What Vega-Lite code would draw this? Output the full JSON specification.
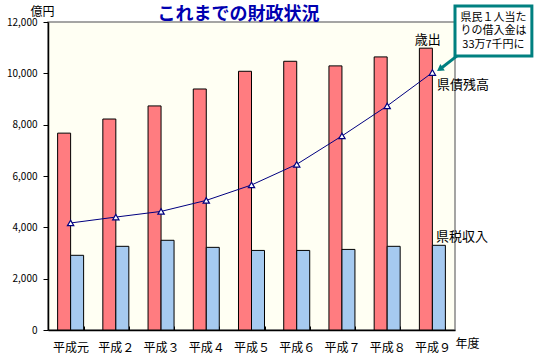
{
  "$schema": "https://vega.github.io/schema/vega-lite/v6.json",
  "width": 407,
  "height": 308,
  "autosize": "none",
  "padding": {"left": 48, "top": 22, "right": 81, "bottom": 29},
  "background": "white",
  "config": {
    "font": "Noto Sans CJK JP",
    "view": {"fill": "#FFFFF3", "stroke": "#888888", "strokeWidth": 1.5}
  },
  "title": {
    "text": "これまでの財政状況",
    "fontSize": 18,
    "fontWeight": "bold",
    "color": "#0000B0",
    "anchor": "middle",
    "frame": "group",
    "dx": -13,
    "dy": 40,
    "offset": 3,
    "baseline": "bottom"
  },
  "datasets": {
    "bars": [
      {"year": "平成元", "kind": "歳出", "value": 7670},
      {"year": "平成２", "kind": "歳出", "value": 8220},
      {"year": "平成３", "kind": "歳出", "value": 8730},
      {"year": "平成４", "kind": "歳出", "value": 9390},
      {"year": "平成５", "kind": "歳出", "value": 10080},
      {"year": "平成６", "kind": "歳出", "value": 10470},
      {"year": "平成７", "kind": "歳出", "value": 10290},
      {"year": "平成８", "kind": "歳出", "value": 10640},
      {"year": "平成９", "kind": "歳出", "value": 10980},
      {"year": "平成元", "kind": "県税収入", "value": 2910},
      {"year": "平成２", "kind": "県税収入", "value": 3260},
      {"year": "平成３", "kind": "県税収入", "value": 3495},
      {"year": "平成４", "kind": "県税収入", "value": 3220},
      {"year": "平成５", "kind": "県税収入", "value": 3100},
      {"year": "平成６", "kind": "県税収入", "value": 3100},
      {"year": "平成７", "kind": "県税収入", "value": 3140},
      {"year": "平成８", "kind": "県税収入", "value": 3260},
      {"year": "平成９", "kind": "県税収入", "value": 3300}
    ],
    "debt": [
      {"year": "平成元", "value": 4170},
      {"year": "平成２", "value": 4400},
      {"year": "平成３", "value": 4620},
      {"year": "平成４", "value": 5050},
      {"year": "平成５", "value": 5650},
      {"year": "平成６", "value": 6455},
      {"year": "平成７", "value": 7560},
      {"year": "平成８", "value": 8730},
      {"year": "平成９", "value": 10030}
    ]
  },
  "layer": [
    {
      "layer": [
        {
          "data": {"name": "bars"},
          "mark": {"type": "bar", "stroke": "black", "strokeWidth": 1},
          "encoding": {
            "x": {
              "field": "year", "type": "nominal",
              "sort": ["平成元", "平成２", "平成３", "平成４", "平成５", "平成６", "平成７", "平成８", "平成９"],
              "scale": {"paddingInner": 0.425, "paddingOuter": 0.2125},
              "axis": {
                "title": "年度", "titleFontSize": 12, "titleFontWeight": "normal", "titleColor": "black",
                "titleX": 419, "titleY": 13, "titleAlign": "center", "titleBaseline": "middle",
                "labelAngle": 0, "labelFontSize": 12, "labelColor": "black", "labelPadding": 16, "labelBaseline": "top",
                "domainColor": "black", "domainWidth": 1.5, "tickColor": "black", "tickSize": -4, "tickBand": "extent", "grid": false
              }
            },
            "xOffset": {"field": "kind", "type": "nominal", "sort": ["歳出", "県税収入"], "scale": {"paddingInner": 0, "paddingOuter": 0}},
            "y": {
              "field": "value", "type": "quantitative",
              "scale": {"domain": [0, 12000], "nice": false},
              "axis": {
                "title": "億円", "titleAngle": 0, "titleX": -6, "titleY": -7, "titleAlign": "center", "titleBaseline": "alphabetic",
                "titleFontSize": 12, "titleFontWeight": "normal", "titleColor": "black",
                "values": [0, 2000, 4000, 6000, 8000, 10000, 12000], "format": ",d",
                "labelFontSize": 10, "labelColor": "black", "labelPadding": 6,
                "domainColor": "black", "domainWidth": 1.5, "tickColor": "black", "tickSize": 5, "grid": false
              }
            },
            "color": {"field": "kind", "type": "nominal", "scale": {"domain": ["歳出", "県税収入"], "range": ["#FF7C80", "#A6CAF0"]}, "legend": null}
          }
        },
        {
          "data": {"name": "debt"},
          "mark": {"type": "line", "color": "#000080", "strokeWidth": 1},
          "encoding": {
            "x": {"field": "year", "type": "nominal", "sort": ["平成元", "平成２", "平成３", "平成４", "平成５", "平成６", "平成７", "平成８", "平成９"]},
            "y": {"field": "value", "type": "quantitative", "scale": {"domain": [0, 12000], "nice": false}}
          }
        },
        {
          "data": {"name": "debt"},
          "mark": {"type": "point", "shape": "triangle-up", "filled": true, "fill": "white", "stroke": "#000080", "strokeWidth": 1.2, "size": 40, "opacity": 1},
          "encoding": {
            "x": {"field": "year", "type": "nominal", "sort": ["平成元", "平成２", "平成３", "平成４", "平成５", "平成６", "平成７", "平成８", "平成９"]},
            "y": {"field": "value", "type": "quantitative", "scale": {"domain": [0, 12000], "nice": false}}
          }
        }
      ]
    },
    {
      "layer": [
        {
          "data": {"values": [{"x0": 9.06, "y0": 10700, "x1": 8.664, "y1": 10161}]},
          "mark": {"type": "rule", "color": "#008080", "strokeWidth": 3},
          "encoding": {
            "x": {"field": "x0", "type": "quantitative", "scale": {"domain": [0, 9], "nice": false, "zero": false}, "axis": null},
            "x2": {"field": "x1"},
            "y": {"field": "y0", "type": "quantitative", "scale": {"domain": [0, 12000], "nice": false}},
            "y2": {"field": "y1"}
          }
        },
        {
          "data": {"values": [{"x": 8.664, "y": 10161}]},
          "mark": {"type": "point", "shape": "triangle-up", "filled": true, "color": "#008080", "size": 60, "angle": 235, "opacity": 1},
          "encoding": {
            "x": {"field": "x", "type": "quantitative", "scale": {"domain": [0, 9], "nice": false, "zero": false}, "axis": null},
            "y": {"field": "y", "type": "quantitative", "scale": {"domain": [0, 12000], "nice": false}}
          }
        },
        {
          "data": {"values": [{"x0": 9.0, "x1": 10.70, "y0": 10675, "y1": 12623}]},
          "mark": {"type": "rect", "fill": "white", "stroke": "#008080", "strokeWidth": 3},
          "encoding": {
            "x": {"field": "x0", "type": "quantitative", "scale": {"domain": [0, 9], "nice": false, "zero": false}, "axis": null},
            "x2": {"field": "x1"},
            "y": {"field": "y0", "type": "quantitative", "scale": {"domain": [0, 12000], "nice": false}},
            "y2": {"field": "y1"}
          }
        },
        {
          "data": {"values": [
            {"x": 9.85, "y": 12175, "t": "県民１人当た"},
            {"x": 9.85, "y": 11649, "t": "りの借入金は"},
            {"x": 9.85, "y": 11104, "t": "33万7千円に"}
          ]},
          "mark": {"type": "text", "fontSize": 11, "align": "center", "baseline": "middle", "color": "black"},
          "encoding": {
            "x": {"field": "x", "type": "quantitative", "scale": {"domain": [0, 9], "nice": false, "zero": false}, "axis": null},
            "y": {"field": "y", "type": "quantitative", "scale": {"domain": [0, 12000], "nice": false}},
            "text": {"field": "t"}
          }
        },
        {
          "data": {"values": [
            {"x": 8.40, "y": 11299, "t": "歳出", "a": "center"},
            {"x": 8.60, "y": 9545, "t": "県債残高", "a": "left"},
            {"x": 8.58, "y": 3612, "t": "県税収入", "a": "left"}
          ]},
          "mark": {"type": "text", "fontSize": 13, "baseline": "middle", "color": "black", "align": {"expr": "datum.a"}},
          "encoding": {
            "x": {"field": "x", "type": "quantitative", "scale": {"domain": [0, 9], "nice": false, "zero": false}, "axis": null},
            "y": {"field": "y", "type": "quantitative", "scale": {"domain": [0, 12000], "nice": false}},
            "text": {"field": "t"}
          }
        }
      ]
    }
  ],
  "resolve": {"scale": {"x": "independent"}}
}
